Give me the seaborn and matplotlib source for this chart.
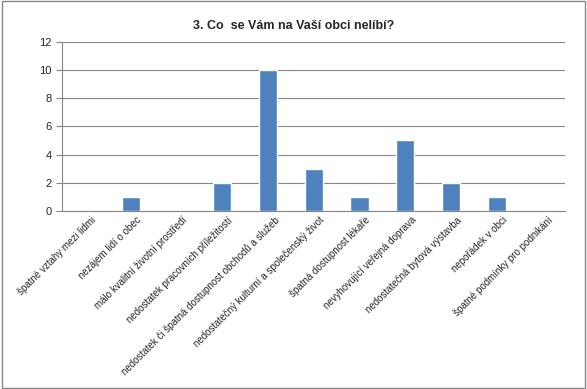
import seaborn as sns
import pandas as pd
import matplotlib.pyplot as plt
from matplotlib.patches import Rectangle
import matplotlib.transforms as mtransforms

categories = [
    "špatné vztahy mezi lidmi",
    "nezájem lidí o obec",
    "málo kvalitní životní prostředí",
    "nedostatek pracovních příležitostí",
    "nedostatek či špatná dostupnost obchodů a služeb",
    "nedostatečný kulturní a společenský život",
    "špatná dostupnost lékaře",
    "nevyhovující veřejná doprava",
    "nedostatečná bytová výstavba",
    "nepořádek v obci",
    "špatné podmínky pro podnikání",
]
counts = [0, 1, 0, 2, 10, 3, 1, 5, 2, 1, 0]
title = "3. Co  se Vám na Vaší obci nelíbí?"

df = pd.DataFrame({"kategorie": categories, "pocet": counts})

sns.set_style("white")
plt.rcParams['font.family'] = ['Liberation Sans', 'DejaVu Sans']

fig = plt.figure(figsize=(5.87, 3.89), dpi=100)
ax = fig.add_axes([0.106, 0.458, 0.857, 0.434])

sns.barplot(data=df, x="kategorie", y="pocet", color="#4F81BD",
            width=0.4, saturation=1, ax=ax)

ax.set_ylim(0, 12)
ax.set_yticks(range(0, 13, 2))
ax.set_xlim(-0.5, len(categories) - 0.5)
ax.yaxis.grid(True, color="#868686", linewidth=0.8)
ax.set_axisbelow(True)
ax.set_xlabel("")
ax.set_ylabel("")

for side in ["top", "right"]:
    ax.spines[side].set_visible(False)
for side in ["left", "bottom"]:
    ax.spines[side].set_color("#868686")
    ax.spines[side].set_linewidth(0.8)

# ticks between categories, like the original
ax.set_xticks([i - 0.5 for i in range(len(categories) + 1)], minor=True)
ax.tick_params(axis="x", which="minor", length=4, color="#868686", width=0.8)
ax.tick_params(axis="x", which="major", length=0, pad=3)
ax.tick_params(axis="y", length=4, color="#868686", width=0.8, direction="out", left=True)
ax.set_xticks(range(len(categories)))
ax.set_xticklabels(categories, rotation=45, ha="right", rotation_mode="anchor", fontsize=7)
shift = mtransforms.ScaledTranslation(4 / 72, 0, fig.dpi_scale_trans)
for lab in ax.get_xticklabels():
    lab.set_transform(lab.get_transform() + shift)
for lab in ax.get_yticklabels():
    lab.set_fontsize(8)

fig.text(0.5, 0.932, title, ha="center", va="center", fontsize=9, fontweight="bold")

fig.patches.append(Rectangle((0.003, 0.003), 0.994, 0.994, transform=fig.transFigure,
                             fill=False, edgecolor="#868686", linewidth=1))

fig.savefig("out.png", dpi=100)
